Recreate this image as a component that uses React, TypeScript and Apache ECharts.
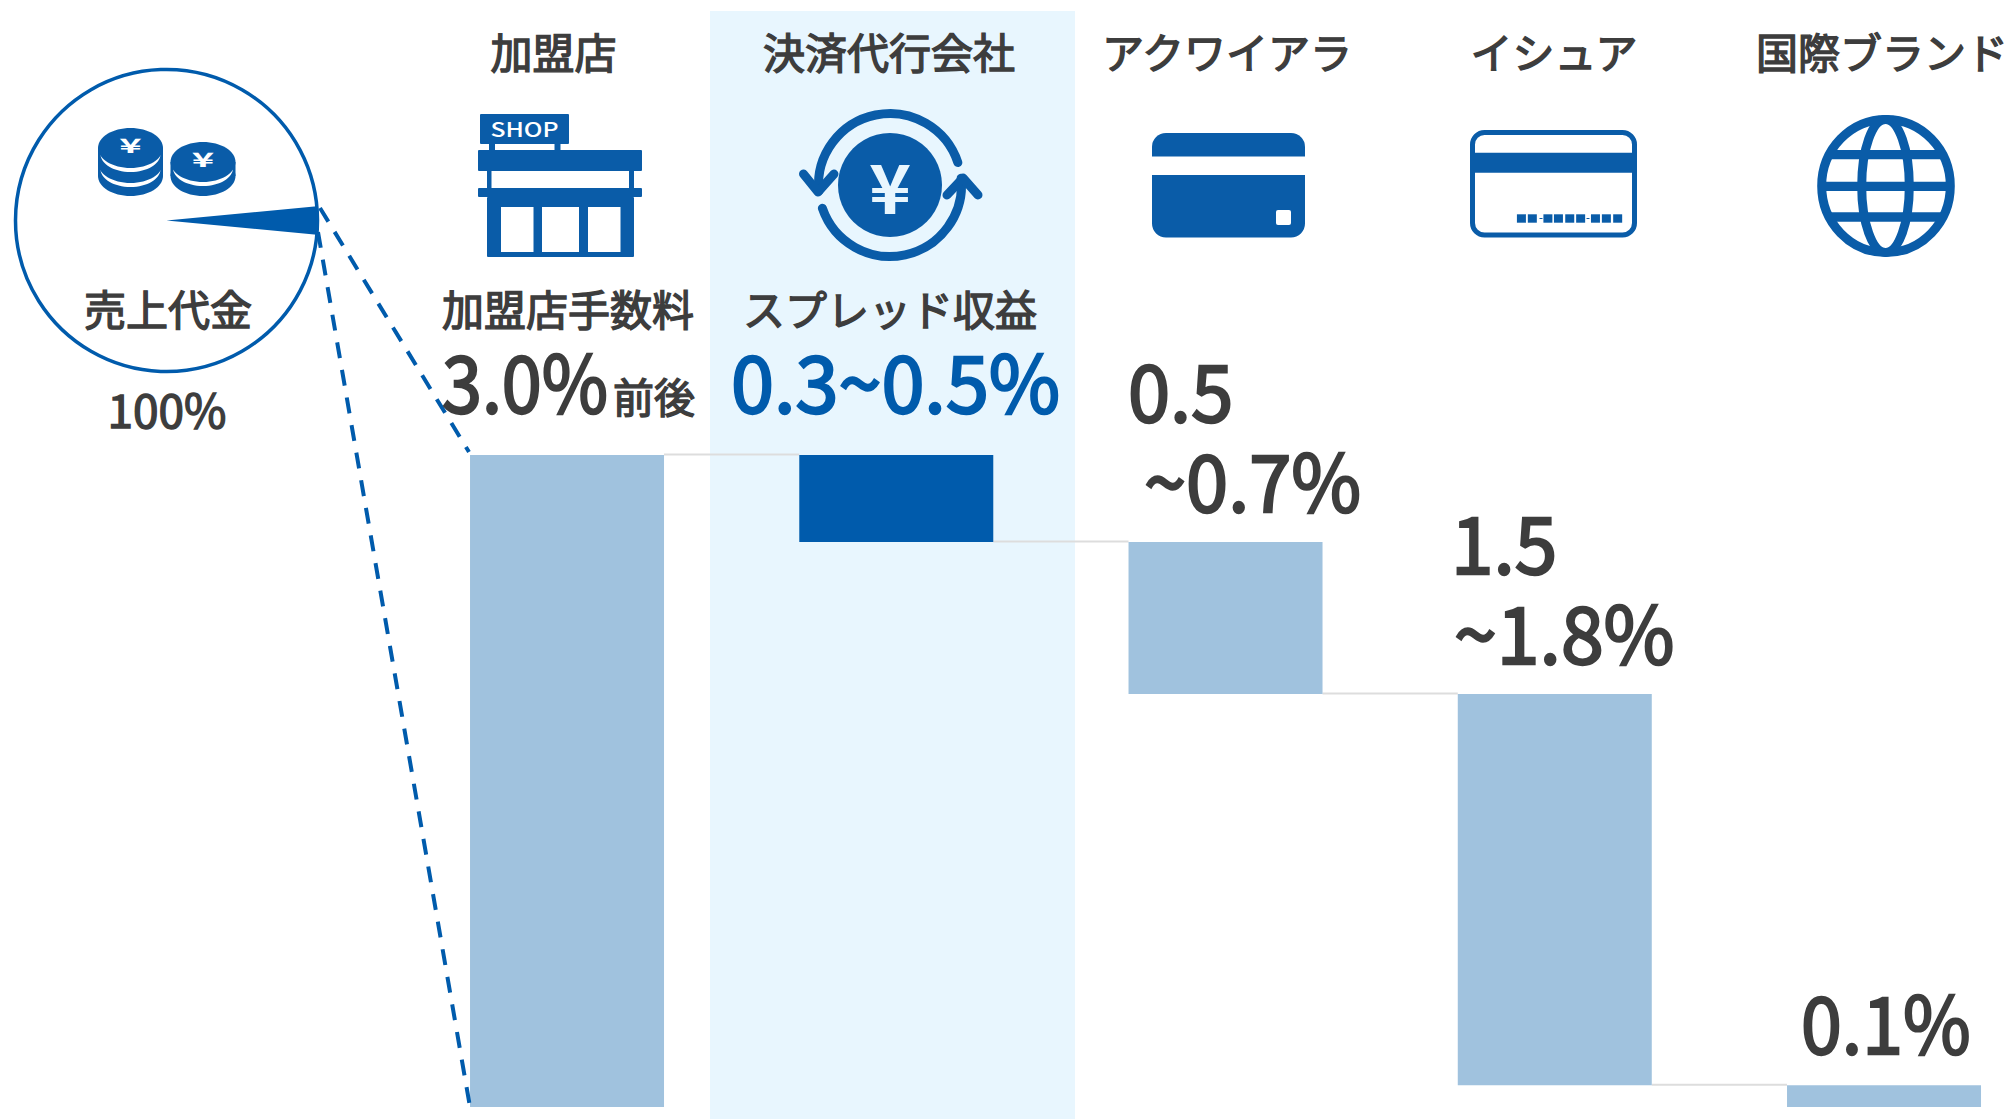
import React, { useEffect, useRef } from "react";
import * as echarts from "echarts";

const categories = ["加盟店", "決済代行会社", "アクワイアラ", "イシュア", "国際ブランド"];
const waterfallBase = [0, 2.6, 1.9, 0.1, 0];
const shareAmounts = [3.0, 0.4, 0.7, 1.8, 0.1];
const connectorLevels = [3.0, 2.6, 1.9, 0.1];
const pieShares = [3, 97];
const circleLabel = "売上代金";
const circleValue = "100%";
const feeLabel = "加盟店手数料";
const feeValue = "3.0%";
const feeSuffix = "前後";
const spreadLabel = "スプレッド収益";
const spreadValue = "0.3~0.5%";
const acquirerValue = ["0.5", "~0.7%"];
const issuerValue = ["1.5", "~1.8%"];
const brandValue = "0.1%";

const BLUE = "#0A5CA8";
const BAR_DARK = "#005BAC";
const BAR_LIGHT = "#A0C2DE";
const BAND = "#E8F6FE";
const INK = "#3D3D3D";
const FONT = '"Noto Sans CJK JP", "Noto Sans", sans-serif';
const BAR_W = 194;

const txt = (text: string, x: number, y: number, size: number, fill = INK, weight = 1.4) => ({
  type: "text",
  z: 10,
  style: { text, x, y, fill, stroke: fill, lineWidth: weight, align: "center", verticalAlign: "middle", fontFamily: FONT, fontSize: size, fontWeight: 400 },
});
const num = (text: string, left: number, y: number, scaleX: number, fill = INK) => ({
  type: "text",
  z: 10,
  x: left,
  y,
  scaleX,
  style: { text, x: 0, y: 0, fill, stroke: fill, lineWidth: 2.4, align: "left", verticalAlign: "middle", fontFamily: FONT, fontSize: 79, fontWeight: 400 },
});
const yen = (x: number, y: number, size: number, scaleX: number, fill: string, weight: number) => ({
  type: "text",
  z: 10,
  x,
  y,
  scaleX,
  style: { text: "¥", x: 0, y: 0, fill, align: "center", verticalAlign: "middle", fontFamily: FONT, fontSize: size, fontWeight: weight },
});
const rect = (x: number, y: number, width: number, height: number, fill = BLUE, r: any = 0) => ({
  type: "rect",
  z: 5,
  shape: { x, y, width, height, r },
  style: { fill },
});
const ell = (cx: number, cy: number, rx: number, ry: number, fill: string) => ({
  type: "ellipse",
  z: 5,
  shape: { cx, cy, rx, ry },
  style: { fill },
});
const seg = (x1: number, y1: number, x2: number, y2: number, lineWidth: number, stroke = BLUE, extra: any = {}) => ({
  type: "line",
  z: 5,
  shape: { x1, y1, x2, y2 },
  style: { stroke, lineWidth, ...extra },
});
const arrow = (pts: number[][]) => ({
  type: "polyline",
  z: 6,
  shape: { points: pts },
  style: { stroke: BLUE, lineWidth: 9, fill: "none", lineCap: "round", lineJoin: "round" },
});
const arc = (start: number, end: number) => ({
  type: "arc",
  z: 6,
  shape: { cx: 890, cy: 185, r: 71.5, startAngle: (start * Math.PI) / 180, endAngle: (end * Math.PI) / 180, clockwise: true },
  style: { stroke: BLUE, lineWidth: 9, fill: "none", lineCap: "round" },
});

const coins = [
  ell(130.5, 176, 32.5, 20, BLUE),
  rect(98, 148, 65, 28),
  ell(130.5, 169, 30, 18, "#fff"),
  ell(130.5, 163, 32.5, 20, BLUE),
  ell(130.5, 154, 30, 18, "#fff"),
  ell(130.5, 148, 32.5, 20, BLUE),
  ell(203, 176, 32.5, 20, BLUE),
  rect(170.5, 162, 65, 14),
  ell(203, 168, 30, 18, "#fff"),
  ell(203, 162, 32.5, 20, BLUE),
  yen(130.5, 144, 20, 1.9, "#fff", 700),
  yen(203, 158, 20, 1.9, "#fff", 700),
];

const shop = [
  rect(480, 114, 89, 30, BLUE, 1),
  rect(489, 144, 6, 6),
  rect(554.5, 144, 6, 6),
  rect(478, 150, 164, 21, BLUE, 1),
  rect(487, 171, 4.5, 17),
  rect(629, 171, 5, 17),
  rect(478, 188, 164, 9, BLUE, 1),
  rect(487, 197, 147, 60, BLUE, 1),
  rect(501, 207, 32.5, 45, "#fff"),
  rect(542, 207, 37, 45, "#fff"),
  rect(588, 207, 32.5, 45, "#fff"),
  { type: "text", z: 10, x: 524.5, y: 128, scaleX: 1.24, style: { text: "SHOP", x: 0, y: 0, fill: "#fff", align: "center", verticalAlign: "middle", fontFamily: FONT, fontSize: 20, fontWeight: 500 } },
];

const yenCycle = [
  arc(175, 341.7),
  arc(-5.5, 161),
  arrow([[803.5, 174], [818, 192], [834, 174]]),
  arrow([[947, 195], [963, 178], [978, 195]]),
  { type: "circle", z: 6, shape: { cx: 890, cy: 185, r: 52 }, style: { fill: BLUE } },
  yen(890, 184, 68, 1.05, BAND, 700),
];

const cardFront = [
  rect(1152, 133, 153, 23.5, BLUE, [14, 14, 0, 0]),
  rect(1152, 175, 153, 62.5, BLUE, [0, 0, 14, 14]),
  rect(1276, 210, 15, 15, "#fff", 2),
];

const cardDotXs = [300, 328, 368, 395, 424, 452, 490, 518, 547];
const cardBack = [
  { type: "rect", z: 5, shape: { x: 1472.5, y: 132.5, width: 162, height: 102.5, r: 12 }, style: { fill: "none", stroke: BLUE, lineWidth: 5 } },
  rect(1470, 152.7, 167, 20),
  ...cardDotXs.map((d) => rect(1400 + d / 2.566, 214.3, 9, 8.4)),
  rect(1539.5, 218, 3, 1),
  rect(1586.5, 218, 3, 1),
];

const globe = [
  { type: "ellipse", z: 5, shape: { cx: 1886, cy: 186, rx: 64.3, ry: 66.5 }, style: { fill: "none", stroke: BLUE, lineWidth: 9 } },
  { type: "ellipse", z: 5, shape: { cx: 1885.5, cy: 186, rx: 23.8, ry: 66.5 }, style: { fill: "none", stroke: BLUE, lineWidth: 9 } },
  seg(1827, 154.7, 1945, 154.7, 9.3),
  seg(1820, 186.3, 1952, 186.3, 9.3),
  seg(1827, 217, 1945, 217, 9.3),
];

const DASH = { lineDash: [16, 12] };

export default function App() {
  const ref = useRef<HTMLDivElement>(null);
  useEffect(() => {
    const chart = echarts.init(ref.current!, undefined, { renderer: "svg" });
    chart.setOption({
      animation: false,
      backgroundColor: "#fff",
      grid: { left: 402.4, top: 455, width: 1646.25, height: 652, containLabel: false },
      xAxis: { type: "category", data: categories, show: false },
      yAxis: { type: "value", min: 0, max: 3, show: false },
      graphic: [
        { type: "rect", z: -1, shape: { x: 710, y: 11, width: 365, height: 1108 }, style: { fill: BAND } },
        seg(320, 208, 469, 452, 4, BAR_DARK, DASH),
        seg(318, 232, 470, 1107, 4, BAR_DARK, DASH),
        { type: "circle", z: 5, shape: { cx: 166.5, cy: 220.5, r: 151 }, style: { fill: "none", stroke: BAR_DARK, lineWidth: 3.5 } },
        ...coins,
        ...shop,
        ...yenCycle,
        ...cardFront,
        ...cardBack,
        ...globe,
        txt(categories[0], 553.5, 50, 42),
        txt(categories[1], 889, 50, 42),
        txt(categories[2], 1227, 50, 42),
        txt(categories[3], 1554, 50, 42),
        txt(categories[4], 1882, 50, 42),
        txt(circleLabel, 168, 307, 42),
        txt(circleValue, 167, 408, 46, INK, 1.4),
        txt(feeLabel, 568, 307, 42),
        num(feeValue, 442, 378, 0.91),
        txt(feeSuffix, 654, 395, 41),
        txt(spreadLabel, 890, 307, 42),
        num(spreadValue, 731, 379, 0.98, BAR_DARK),
        num(acquirerValue[0], 1128, 387, 0.96),
        num(acquirerValue[1], 1144, 477, 0.96),
        num(issuerValue[0], 1451, 539, 0.97),
        num(issuerValue[1], 1454, 630, 0.975),
        num(brandValue, 1801, 1020, 0.93),
      ],
      series: [
        {
          type: "pie",
          silent: true,
          center: [166.5, 220.5],
          radius: [0, 151],
          startAngle: 5.4,
          z: 4,
          label: { show: false },
          labelLine: { show: false },
          data: [
            { value: pieShares[0], itemStyle: { color: BAR_DARK } },
            { value: pieShares[1], itemStyle: { color: "transparent" } },
          ],
        },
        {
          type: "bar",
          stack: "fee",
          barWidth: BAR_W,
          silent: true,
          itemStyle: { color: "transparent" },
          data: waterfallBase,
        },
        {
          type: "bar",
          stack: "fee",
          barWidth: BAR_W,
          silent: true,
          z: 3,
          data: shareAmounts.map((value, i) => ({
            value,
            itemStyle: { color: i === 1 ? BAR_DARK : BAR_LIGHT },
          })),
        },
        {
          type: "custom",
          silent: true,
          z: 3,
          encode: { x: 0, y: 1 },
          data: connectorLevels.map((level, i) => [i, level]),
          renderItem: (_: any, api: any) => {
            const i = api.value(0);
            const level = api.value(1);
            const a = api.coord([i, level]);
            const b = api.coord([i + 1, level]);
            return {
              type: "line",
              shape: { x1: a[0] + BAR_W / 2, y1: a[1] - 0.5, x2: b[0] - BAR_W / 2, y2: b[1] - 0.5 },
              style: { stroke: "#DDDDDD", lineWidth: 2 },
            };
          },
        },
      ],
    });
    return () => chart.dispose();
  }, []);
  return (
    <div style={{ position: "absolute", left: 0, top: 0, width: 2011, height: 1119, overflow: "hidden" }}>
      <div ref={ref} style={{ width: 2060, height: 1119 }} />
    </div>
  );
}
